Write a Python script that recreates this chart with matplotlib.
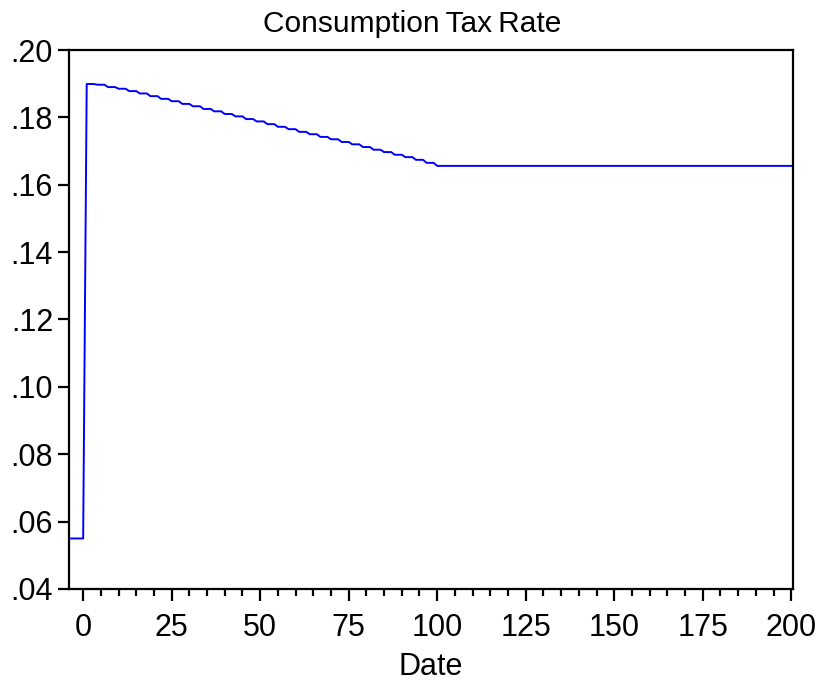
import numpy as np
import matplotlib
matplotlib.use('Agg')
from matplotlib import pyplot as plt
from matplotlib.ticker import MultipleLocator, FuncFormatter

plt.rcParams['font.family'] = ['Liberation Sans', 'DejaVu Sans']

# data
pre_periods = [-4, -3, -2, -1, 0]
pre_value = 0.055
# declining staircase, each level held for 3 periods (periods 1..99)
levels = [0.1899, 0.1897, 0.1890, 0.1885, 0.1878, 0.1871, 0.1863, 0.1855,
          0.1848, 0.1840, 0.1833, 0.1825, 0.1818, 0.1810, 0.1803, 0.1795,
          0.1788, 0.1780, 0.1772, 0.1765, 0.1757, 0.1750, 0.1742, 0.1735,
          0.1727, 0.1720, 0.1712, 0.1704, 0.1697, 0.1689, 0.1682, 0.1674,
          0.1665]
final_value = 0.1656
last_period = 200

title = 'Consumption\u2009Tax\u2009Rate'
xlabel = 'Date'

decline = np.repeat(levels, 3)
n_decl = len(decline)
x = np.concatenate([pre_periods,
                    np.arange(1, 1 + n_decl),
                    np.arange(1 + n_decl, last_period + 1)])
y = np.concatenate([[pre_value] * len(pre_periods),
                    decline,
                    [final_value] * (last_period - n_decl)])

fig = plt.figure(figsize=(8.24, 6.86), dpi=100)
ax = fig.add_axes([69 / 824, 1 - 589 / 686, 724 / 824, 539 / 686])
ax.plot(x, y, color='#0000FF', linewidth=1.4)

ax.set_xlim(-4, 200.5)
ax.set_ylim(0.04, 0.20)
ax.xaxis.set_major_locator(MultipleLocator(25))
ax.xaxis.set_minor_locator(MultipleLocator(5))
ax.yaxis.set_major_locator(MultipleLocator(0.02))
ax.yaxis.set_major_formatter(FuncFormatter(lambda v, p: ('%.2f' % v).lstrip('0')))

for s in ax.spines.values():
    s.set_linewidth(1.6)
ax.tick_params(axis='both', which='major', direction='out', width=1.6,
               labelsize=22)
ax.tick_params(axis='x', which='major', length=8.5, pad=9)
ax.tick_params(axis='x', which='minor', direction='out', length=5, width=1.6)
ax.tick_params(axis='y', which='major', length=8, pad=3.5)

# title is centred on the figure, not the axes
ax.set_title(title, fontsize=21.5, pad=13, x=(412 - 69) / 724)
ax.set_xlabel(xlabel, fontsize=22, labelpad=6)

plt.savefig('out.png', dpi=100)
plt.close(fig)
